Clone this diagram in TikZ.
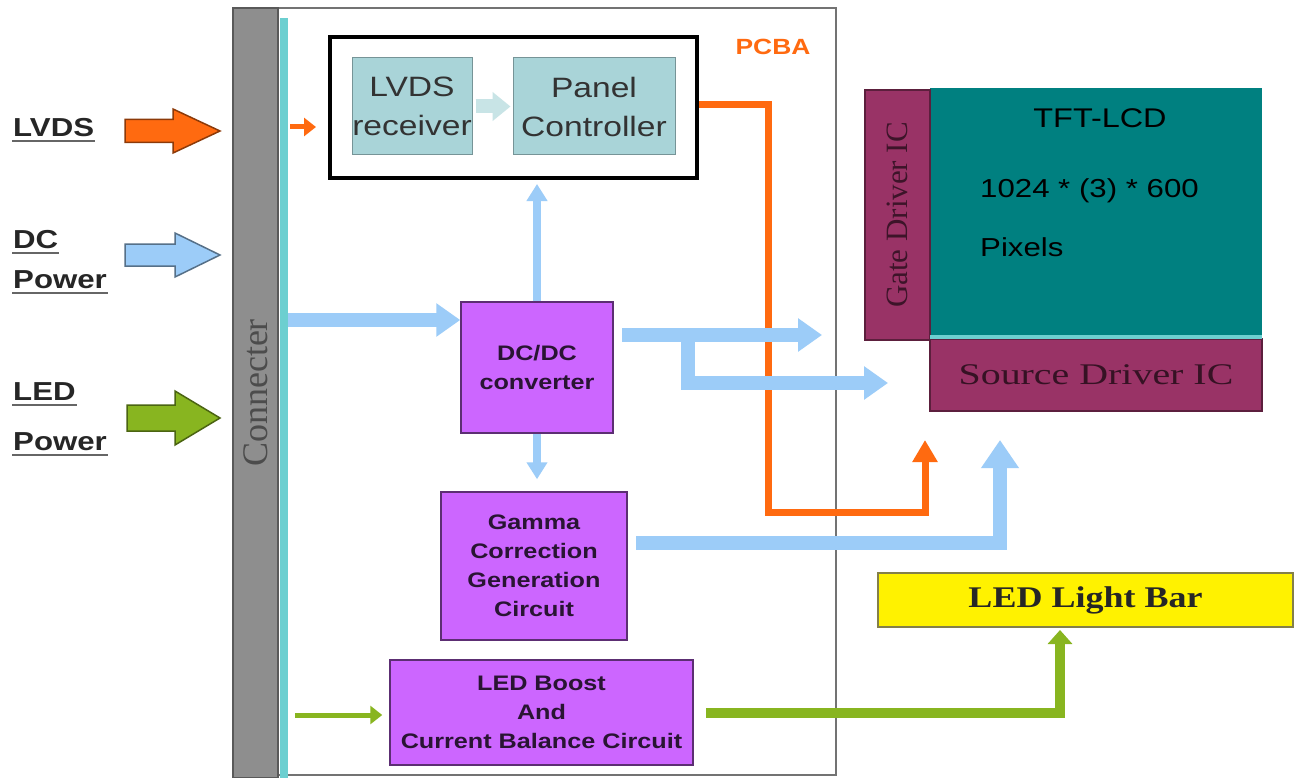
\documentclass[tikz,border=0pt]{standalone}
\usepackage{fontspec}
\setmainfont{Liberation Sans}
\newfontfamily\sfS{Liberation Sans}[FakeStretch=1.2]
\newfontfamily\serS{Liberation Serif}[FakeStretch=1.2]
\newfontfamily\serW{Liberation Serif}[FakeStretch=1.33]
\newfontfamily\serN{Liberation Serif}
\usetikzlibrary{arrows.meta}
\definecolor{orangeC}{HTML}{FF6A10}
\definecolor{blueC}{HTML}{9CCCF8}
\definecolor{greenC}{HTML}{88B520}
\definecolor{purpleC}{HTML}{CC66FF}
\definecolor{tealC}{HTML}{008080}
\definecolor{maroonC}{HTML}{993366}
\definecolor{cyanBox}{HTML}{A9D4D8}
\definecolor{connGray}{HTML}{8E8E8E}
\definecolor{stripC}{HTML}{6CCFD0}
\definecolor{paleC}{HTML}{C8E4E6}
\newcommand\blockarrow[7]{%
  \filldraw[fill=#1, draw=#1!55!black, line width=1.5]
    (#2,{#4-#5}) -- ({#3-#7},{#4-#5}) -- ({#3-#7},{#4-#6}) -- (#3,#4)
    -- ({#3-#7},{#4+#6}) -- ({#3-#7},{#4+#5}) -- (#2,{#4+#5}) -- cycle;}
\tikzset{
  lbl/.style={anchor=west, inner sep=1, font=\sfS\fontsize{26}{30}\selectfont\bfseries, text=black!85},
  ul/.style={black!60, line width=2},
  cbox/.style={draw=cyanBox!70!black, fill=cyanBox, line width=1, inner sep=0, align=center,
    font=\sfS\fontsize{28}{39}\selectfont, text=black!80},
  pbox/.style={draw=purpleC!45!black, fill=purpleC, line width=1.5, inner sep=0, align=center,
    font=\sfS\fontsize{21}{29}\selectfont\bfseries, text=purpleC!20!black},
  mbox/.style={draw=maroonC!60!black, fill=maroonC, line width=1.2, inner sep=0},
  bluearrow/.style={blueC, line width=14, -{Triangle[width=32pt,length=24pt]}},
  bluethin/.style={blueC, line width=8, -{Triangle[width=20pt,length=17pt]}},
  orangearrow/.style={orangeC, line width=7, -{Triangle[width=24pt,length=22pt]}},
  greenarrow/.style={greenC, line width=10, -{Triangle[width=24pt,length=14pt]}},
}
\begin{document}
\begin{tikzpicture}[x=1pt,y=-1pt]
\useasboundingbox (0,0) rectangle (1297,778);
\fill[white] (0,0) rectangle (1297,778);

% PCBA board outline
\draw[black!55, line width=1.2] (233,8) rectangle (836,775);
\node[font=\sfS\fontsize{22}{24}\selectfont\bfseries, text=orangeC] (pcba) at (773,47) {PCBA};

% connector bar
\filldraw[fill=connGray, draw=black!65, line width=1.5] (233,8) rectangle (278,778);
\fill[stripC] (280,18) rectangle (288,778);
\node[rotate=90, font=\serN\fontsize{36}{38}\selectfont, text=black!70] (conn) at (256,393) {Connecter};

% left labels
\node[lbl] (lLVDS) at (12,128) {LVDS};
\node[lbl] (lDC) at (12,240) {DC};
\node[lbl] (lDCP) at (12,280) {Power};
\node[lbl] (lLED) at (12,392) {LED};
\node[lbl] (lLEDP) at (12,442) {Power};
\foreach \n in {lLVDS,lDC,lDCP,lLED,lLEDP}{
  \draw[ul] ([yshift=-3]\n.south west) -- ([yshift=-3]\n.south east);}

% block arrows
\blockarrow{orangeC}{125}{220}{131}{11.5}{22}{47}
\blockarrow{blueC}{125}{220}{255}{11}{22}{45}
\blockarrow{greenC}{127}{220}{418}{13}{27}{45}

% top section
\node[draw=black, line width=4, minimum width=367, minimum height=141, inner sep=0] (ctl) at (513.5,107.5) {};
\node[cbox, minimum width=120, minimum height=97] (rx) at (412,106.5) {LVDS\\receiver};
\node[cbox, minimum width=162, minimum height=97] (pc) at (594,106.5) {Panel\\Controller};
\draw[paleC, line width=14, -{Triangle[width=28pt,length=18pt]}] ([xshift=3]rx.east) -- ([xshift=-2]pc.west);
\coordinate (oin) at (290,127);
\draw[orangeC, line width=5, -{Triangle[width=18pt,length=12pt]}] (oin) -- ([xshift=-12]ctl.west |- oin);

% purple blocks
\node[pbox, minimum width=152, minimum height=131] (dcdc) at (537,367.5) {DC/DC\\converter};
\node[pbox, minimum width=186, minimum height=148] (gam) at (534,566) {\rule{0pt}{8pt}Gamma\\Correction\\Generation\\Circuit};
\node[pbox, minimum width=303, minimum height=105] (boost) at (541.5,712.5) {\rule{0pt}{6pt}LED Boost\\And\\Current Balance Circuit};

% TFT panel
\node[fill=tealC, minimum width=332, minimum height=249, inner sep=0] (tft) at (1096,212.5) {};
\node[font=\sfS\fontsize{27}{30}\selectfont, text=black] (tftT) at (1100,118) {TFT-LCD};
\node[anchor=west, font=\sfS\fontsize{26}{30}\selectfont, text=black, inner sep=0] (res) at (980,191) {1024 * (3) * 600};
\node[anchor=west, font=\sfS\fontsize{26}{30}\selectfont, text=black, inner sep=0] (pix) at (980,247) {Pixels};
\node[mbox, minimum width=65, minimum height=250] (gate) at (897.5,215) {};
\node[rotate=90, font=\serN\fontsize{31}{33}\selectfont, text=maroonC!40!black] (gateT) at (gate) {Gate Driver IC};
\node[mbox, minimum width=332, minimum height=72, font=\serW\fontsize{30}{32}\selectfont, text=maroonC!35!black] (src) at (1096,375) {Source Driver IC};
\draw[stripC, line width=4] (tft.south west) -- (tft.south east);

% LED light bar
\node[draw=yellow!45!black, fill=yellow, line width=2, minimum width=415, minimum height=54, inner sep=0,
  font=\serS\fontsize{30}{32}\selectfont\bfseries, text=black!85] (bar) at (1085.5,600) {LED Light Bar};

% orange (below the blue lines)
\coordinate (o1) at (768,105);
\coordinate (o2) at (925,512);
\coordinate (oe) at (925,440);
\draw[orangearrow] (ctl.east |- o1) -- (o1) -- (o1 |- o2) -- (o2) -- (oe);

% blue connectors
\coordinate (dcin) at (288,320);
\draw[bluearrow] (dcin) -- (dcin -| dcdc.west);
\draw[bluethin] (dcdc.north) -- ([yshift=-4]dcdc.north |- ctl.south);
\draw[bluethin] (dcdc.south) -- ([yshift=12]dcdc.south |- gam.north);
\coordinate (b1) at (622,335);
\coordinate (b1e) at (822,335);
\coordinate (b2) at (688,335);
\coordinate (b2e) at (888,383);
\draw[bluearrow] (b1) -- (b1e);
\draw[bluearrow] (b2) -- (b2 |- b2e) -- (b2e);
% gamma to source
\coordinate (g1) at (636,543);
\coordinate (ge) at (1000,440);
\draw[blueC, line width=14, -{Triangle[width=36pt,length=28pt]}] (g1) -- (ge |- g1) -- (ge);
% green
\coordinate (gin) at (295,715);
\draw[greenC, line width=5, -{Triangle[width=18pt,length=12pt]}] (gin) -- ([xshift=-7]boost.west |- gin);
\coordinate (gr1) at (706,713);
\coordinate (gr2) at (1060,713);
\draw[greenarrow] (gr1) -- (gr2) -- ([yshift=-2]gr2 |- bar.south);
\end{tikzpicture}
\end{document}
